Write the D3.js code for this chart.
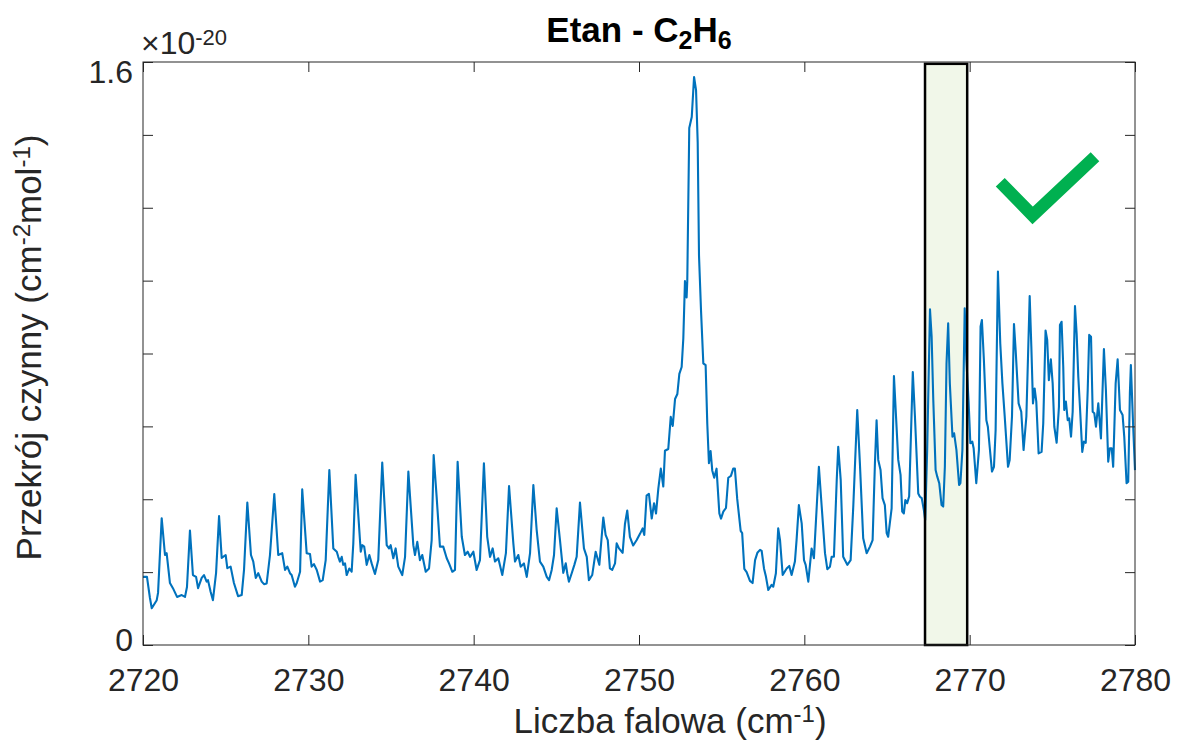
<!DOCTYPE html>
<html><head><meta charset="utf-8">
<script src="https://cdn.jsdelivr.net/npm/d3@7"></script>
<style>
body{margin:0;background:#fff}
svg{display:block}
text{font-family:"Liberation Sans",Arial,Helvetica,sans-serif}
</style>
</head><body>
<svg id="chart" width="1183" height="740"></svg>
<script>
// ---- data (cross section in units of 1e-20 cm^2/molecule) ----
const wavenumber = [
2720.00,2720.24,2720.42,2720.53,2720.83,2720.91,2721.13,2721.33,2721.43,2721.63,
2721.81,2722.06,2722.34,2722.54,2722.66,2722.84,2723.02,2723.21,2723.33,2723.55,
2723.69,2723.85,2723.93,2724.09,2724.23,2724.42,2724.60,2724.76,2725.00,2725.10,
2725.30,2725.50,2725.75,2725.97,2726.11,2726.31,2726.53,2726.67,2726.82,2726.97,
2727.18,2727.32,2727.48,2727.68,2727.94,2728.18,2728.42,2728.59,2728.73,2728.89,
2728.99,2729.19,2729.30,2729.50,2729.63,2729.90,2730.10,2730.20,2730.34,2730.51,
2730.71,2730.87,2731.05,2731.27,2731.51,2731.72,2731.81,2731.91,2732.02,2732.11,
2732.22,2732.32,2732.48,2732.62,2732.72,2732.86,2733.17,2733.26,2733.38,2733.53,
2733.69,2733.83,2734.03,2734.23,2734.47,2734.74,2734.88,2734.98,2735.14,2735.28,
2735.44,2735.68,2735.85,2736.05,2736.35,2736.45,2736.59,2736.75,2736.89,2737.10,
2737.30,2737.46,2737.58,2737.76,2737.96,2738.16,2738.37,2738.51,2738.71,2738.87,
2739.03,2739.28,2739.47,2739.64,2739.78,2739.98,2740.18,2740.38,2740.62,2740.82,
2740.99,2741.15,2741.29,2741.49,2741.73,2741.95,2742.14,2742.40,2742.50,2742.70,
2742.84,2743.04,2743.21,2743.41,2743.61,2743.81,2744.01,2744.21,2744.42,2744.56,
2744.72,2744.86,2745.02,2745.22,2745.42,2745.57,2745.66,2745.76,2745.93,2746.09,
2746.23,2746.43,2746.67,2746.84,2746.97,2747.17,2747.38,2747.60,2747.84,2747.98,
2748.11,2748.24,2748.38,2748.55,2748.65,2748.79,2749.01,2749.15,2749.29,2749.45,
2749.65,2749.86,2750.06,2750.22,2750.32,2750.46,2750.60,2750.77,2750.91,2751.03,
2751.17,2751.32,2751.47,2751.57,2751.77,2751.92,2752.04,2752.18,2752.32,2752.44,
2752.58,2752.68,2752.78,2752.88,2752.92,2753.04,2753.19,2753.33,2753.45,2753.55,
2753.63,2753.75,2753.89,2754.03,2754.13,2754.23,2754.33,2754.43,2754.55,2754.69,
2754.86,2754.96,2755.10,2755.26,2755.40,2755.56,2755.70,2755.80,2755.94,2756.15,
2756.24,2756.37,2756.51,2756.71,2756.87,2757.02,2757.16,2757.32,2757.42,2757.56,
2757.68,2757.82,2758.02,2758.12,2758.28,2758.42,2758.53,2758.69,2758.93,2759.09,
2759.23,2759.43,2759.53,2759.67,2759.84,2759.98,2760.08,2760.24,2760.44,2760.58,
2760.75,2760.88,2761.05,2761.25,2761.39,2761.55,2761.65,2761.79,2761.96,2762.05,
2762.20,2762.35,2762.60,2762.80,2762.96,2763.20,2763.36,2763.56,2763.77,2763.97,
2764.13,2764.27,2764.37,2764.47,2764.61,2764.73,2764.87,2764.98,2765.07,2765.28,
2765.42,2765.68,2765.82,2765.92,2766.02,2766.11,2766.22,2766.34,2766.56,2766.69,
2766.89,2766.99,2767.10,2767.23,2767.31,2767.43,2767.60,2767.70,2767.80,2767.94,
2768.04,2768.16,2768.30,2768.40,2768.50,2768.60,2768.70,2768.80,2768.96,2769.06,
2769.20,2769.36,2769.44,2769.56,2769.70,2769.80,2769.94,2770.04,2770.16,2770.24,
2770.40,2770.56,2770.66,2770.74,2770.86,2771.01,2771.10,2771.21,2771.35,2771.47,
2771.57,2771.71,2771.85,2771.98,2772.12,2772.32,2772.42,2772.56,2772.68,2772.78,
2772.96,2773.12,2773.26,2773.43,2773.63,2773.73,2773.83,2773.93,2774.03,2774.17,
2774.35,2774.45,2774.59,2774.69,2774.79,2774.91,2775.02,2775.12,2775.26,2775.40,
2775.46,2775.56,2775.66,2775.72,2775.82,2775.93,2776.02,2776.13,2776.23,2776.37,
2776.47,2776.57,2776.67,2776.81,2776.91,2777.02,2777.14,2777.23,2777.34,2777.44,
2777.54,2777.64,2777.78,2777.94,2778.12,2778.24,2778.38,2778.48,2778.59,2778.68,
2778.83,2778.95,2779.09,2779.25,2779.35,2779.49,2779.59,2779.69,2779.75,2779.89,
2780.00];
const crossSection = [
0.187,0.187,0.129,0.101,0.123,0.143,0.348,0.247,0.252,0.170,
0.156,0.132,0.137,0.132,0.159,0.314,0.192,0.187,0.156,0.184,
0.192,0.174,0.178,0.146,0.123,0.198,0.354,0.239,0.247,0.211,
0.215,0.170,0.134,0.137,0.206,0.391,0.247,0.229,0.184,0.197,
0.174,0.167,0.169,0.247,0.414,0.247,0.252,0.206,0.215,0.197,
0.192,0.160,0.170,0.201,0.427,0.252,0.250,0.215,0.222,0.206,
0.174,0.178,0.233,0.480,0.265,0.256,0.242,0.229,0.242,0.220,
0.224,0.192,0.210,0.201,0.279,0.467,0.256,0.274,0.270,0.220,
0.247,0.224,0.195,0.233,0.501,0.274,0.265,0.274,0.238,0.265,
0.215,0.192,0.242,0.476,0.274,0.247,0.283,0.233,0.247,0.201,
0.210,0.288,0.521,0.407,0.270,0.270,0.238,0.224,0.201,0.206,
0.503,0.297,0.247,0.256,0.242,0.256,0.206,0.233,0.499,0.297,
0.242,0.265,0.229,0.238,0.192,0.252,0.436,0.279,0.229,0.247,
0.215,0.224,0.187,0.252,0.439,0.316,0.229,0.215,0.187,0.178,
0.206,0.247,0.375,0.288,0.198,0.224,0.197,0.174,0.197,0.220,
0.242,0.391,0.265,0.242,0.178,0.192,0.256,0.220,0.350,0.302,
0.288,0.210,0.206,0.224,0.279,0.265,0.253,0.332,0.369,0.297,
0.273,0.288,0.305,0.320,0.302,0.410,0.415,0.347,0.389,0.361,
0.430,0.484,0.435,0.533,0.538,0.626,0.601,0.675,0.689,0.744,
0.763,0.841,0.999,0.954,0.999,1.419,1.449,1.559,1.523,1.380,
1.068,0.919,0.773,0.768,0.607,0.499,0.532,0.479,0.459,0.484,
0.361,0.347,0.366,0.376,0.459,0.464,0.484,0.484,0.401,0.313,
0.307,0.209,0.200,0.176,0.170,0.233,0.253,0.261,0.258,0.210,
0.187,0.151,0.165,0.160,0.197,0.320,0.288,0.192,0.210,0.217,
0.192,0.229,0.288,0.384,0.334,0.233,0.220,0.174,0.265,0.238,
0.380,0.489,0.380,0.252,0.208,0.215,0.242,0.242,0.453,0.544,
0.453,0.242,0.220,0.233,0.380,0.645,0.499,0.293,0.252,0.270,
0.288,0.499,0.617,0.508,0.480,0.403,0.384,0.307,0.297,0.375,
0.738,0.508,0.467,0.366,0.361,0.398,0.389,0.408,0.749,0.627,
0.416,0.407,0.403,0.370,0.343,0.535,0.921,0.846,0.672,0.480,
0.462,0.444,0.384,0.380,0.489,0.773,0.883,0.718,0.572,0.581,
0.535,0.439,0.444,0.535,0.924,0.782,0.663,0.554,0.558,0.540,
0.444,0.535,0.874,0.892,0.782,0.617,0.599,0.544,0.476,0.489,
0.590,1.025,0.828,0.718,0.627,0.489,0.508,0.627,0.881,0.810,
0.663,0.640,0.535,0.627,0.958,0.819,0.663,0.704,0.668,0.526,
0.530,0.608,0.863,0.837,0.727,0.784,0.718,0.599,0.555,0.654,
0.878,0.887,0.764,0.645,0.668,0.617,0.622,0.572,0.640,0.930,
0.855,0.736,0.654,0.530,0.558,0.555,0.700,0.851,0.846,0.640,
0.636,0.599,0.663,0.567,0.812,0.700,0.503,0.540,0.540,0.489,
0.718,0.784,0.645,0.631,0.572,0.444,0.448,0.691,0.768,0.599,
0.480];
const xTicks = [2720,2730,2740,2750,2760,2770,2780];
const yTicks = [0,0.2,0.4,0.6,0.8,1.0,1.2,1.4,1.6];
const yTickLabels = ["0","","","","","","","","1.6"];
const xDomain = [2720,2780];
const yDomain = [0,1.6];
const windowRange = [2767.3, 2769.85];   // highlighted band (cm^-1)
const windowTop = 1.595;
const checkX = [2771.85, 2773.81, 2777.58]; // check-mark vertices (data coords)
const checkY = [1.270, 1.179, 1.340];

// ---- layout ----
const W = 1183, H = 740;
const m = {l:143, t:62, r:48, b:95};
const axisColor = "#262626";
const svg = d3.select("#chart");
const x = d3.scaleLinear().domain(xDomain).range([m.l, W - m.r]);
const y = d3.scaleLinear().domain(yDomain).range([H - m.b, m.t]);

// highlighted window
svg.append("rect")
  .attr("x", x(windowRange[0])).attr("y", y(windowTop))
  .attr("width", x(windowRange[1]) - x(windowRange[0]))
  .attr("height", y(0) - y(windowTop))
  .attr("fill", "#f1f7e9").attr("stroke", "none");

// spectrum line
const pts = wavenumber.map((w, i) => [w, crossSection[i]]);
svg.append("path")
  .datum(pts)
  .attr("fill", "none")
  .attr("stroke", "#0072BD")
  .attr("stroke-width", 2.1)
  .attr("stroke-linejoin", "round")
  .attr("d", d3.line().x(d => x(d[0])).y(d => y(d[1])));

// window border
svg.append("rect")
  .attr("x", x(windowRange[0])).attr("y", y(windowTop))
  .attr("width", x(windowRange[1]) - x(windowRange[0]))
  .attr("height", y(0) - y(windowTop))
  .attr("fill", "none").attr("stroke", "#000").attr("stroke-width", 2.5);

// check mark
svg.append("path")
  .datum(checkX.map((v, i) => [v, checkY[i]]))
  .attr("fill", "none").attr("stroke", "#00B050")
  .attr("stroke-width", 12.5).attr("stroke-linecap", "butt").attr("stroke-linejoin", "miter")
  .attr("d", d3.line().x(d => x(d[0])).y(d => y(d[1])));

// axes
function styleAxis(g) {
  g.select(".domain").remove();
  g.selectAll(".tick line").attr("stroke", axisColor).attr("stroke-width", 1);
  g.selectAll(".tick text").attr("fill", axisColor);
}
const gB = svg.append("g").attr("transform", `translate(0,${y(0)})`)
  .call(d3.axisBottom(x).tickValues(xTicks).tickSize(-10).tickPadding(23).tickFormat(d3.format("d")))
  .attr("font-size", 32).call(styleAxis);
const gT = svg.append("g").attr("transform", `translate(0,${y(yDomain[1])})`)
  .call(d3.axisTop(x).tickValues(xTicks).tickSize(-10).tickFormat(""))
  .call(styleAxis);
const gL = svg.append("g").attr("transform", `translate(${x(xDomain[0])},0)`)
  .call(d3.axisLeft(y).tickValues(yTicks).tickSize(-10).tickPadding(10)
    .tickFormat((d, i) => yTickLabels[i]))
  .attr("font-size", 32).call(styleAxis);
gL.selectAll(".tick text").attr("transform", d => d === 1.6 ? "translate(0,10)" : (d === 0 ? "translate(0,-5)" : null));
const gR = svg.append("g").attr("transform", `translate(${x(xDomain[1])},0)`)
  .call(d3.axisRight(y).tickValues(yTicks).tickSize(-10).tickFormat(""))
  .call(styleAxis);

// frame
svg.append("rect")
  .attr("x", x(xDomain[0])).attr("y", y(yDomain[1]))
  .attr("width", x(xDomain[1]) - x(xDomain[0]))
  .attr("height", y(yDomain[0]) - y(yDomain[1]))
  .attr("fill", "none").attr("stroke", axisColor).attr("stroke-width", 1);

// exponent label
const ex = svg.append("text").attr("x", x(xDomain[0]) - 2).attr("y", 54)
  .attr("fill", axisColor).attr("font-size", 32);
ex.append("tspan").text("\u00d710");
ex.append("tspan").attr("font-size", 22).attr("dy", -9).text("-20");

// title
const cx = (x(xDomain[0]) + x(xDomain[1])) / 2;
const t = svg.append("text").attr("x", cx).attr("y", 42).attr("text-anchor", "middle")
  .attr("font-size", 35).attr("font-weight", "bold").attr("fill", "#000");
t.append("tspan").text("Etan - C");
t.append("tspan").attr("font-size", 25).attr("dy", 7).text("2");
t.append("tspan").attr("dy", -7).text("H");
t.append("tspan").attr("font-size", 25).attr("dy", 7).text("6");

// x label
const xl = svg.append("text").attr("x", 670).attr("y", 733).attr("text-anchor", "middle")
  .attr("font-size", 35).attr("fill", axisColor);
xl.append("tspan").text("Liczba falowa (cm");
xl.append("tspan").attr("font-size", 24).attr("dy", -11).text("-1");
xl.append("tspan").attr("dy", 11).text(")");

// y label
const cy = (y(yDomain[0]) + y(yDomain[1])) / 2;
const yl = svg.append("text").attr("transform", `translate(41,${cy - 6}) rotate(-90)`)
  .attr("text-anchor", "middle").attr("font-size", 35).attr("fill", axisColor);
yl.append("tspan").text("Przekrój czynny (cm");
yl.append("tspan").attr("font-size", 24).attr("dy", -11).text("-2");
yl.append("tspan").attr("dy", 11).text("mol");
yl.append("tspan").attr("font-size", 24).attr("dy", -11).text("-1");
yl.append("tspan").attr("dy", 11).text(")");
</script>
</body></html>
